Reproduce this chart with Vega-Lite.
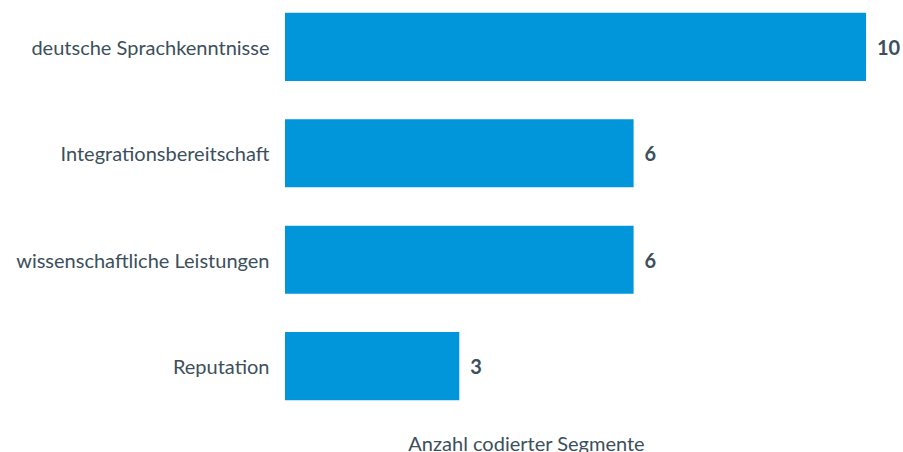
{
  "$schema": "https://vega.github.io/schema/vega-lite/v6.json",
  "autosize": {"type": "none"},
  "padding": {"left": 285, "top": 0, "right": 37, "bottom": 39},
  "width": 581,
  "height": 413,
  "background": "white",
  "config": {"view": {"stroke": null}, "font": "Lato"},
  "data": {"values": [
    {"kategorie": "deutsche Sprachkenntnisse", "anzahl": 10},
    {"kategorie": "Integrationsbereitschaft", "anzahl": 6},
    {"kategorie": "wissenschaftliche Leistungen", "anzahl": 6},
    {"kategorie": "Reputation", "anzahl": 3}
  ]},
  "encoding": {
    "y": {"field": "kategorie", "type": "nominal", "sort": null,
      "scale": {"paddingInner": 0.36, "paddingOuter": 0.12},
      "axis": {"title": null, "ticks": false, "domain": false, "labelPadding": 16, "labelOffset": 2, "labelFontSize": 20, "labelLimit": 0, "labelColor": "#3c4f5c", "labelFont": "Lato"}},
    "x": {"field": "anzahl", "type": "quantitative", "scale": {"domain": [0, 10], "nice": false},
      "axis": {"title": "Anzahl codierter Segmente", "labels": false, "ticks": false, "domain": false, "grid": false,
        "titleFontSize": 20, "titleFontWeight": "normal", "titleColor": "#3c4f5c", "titlePadding": 21, "titleX": 241, "titleFont": "Lato"}}
  },
  "layer": [
    {"mark": {"type": "bar", "color": "#0096d9"}},
    {"mark": {"type": "text", "align": "left", "dx": 11, "dy": 2, "fontSize": 20, "fontWeight": "bold", "color": "#3c4f5c", "font": "Lato"},
      "encoding": {"text": {"field": "anzahl", "type": "quantitative"}}}
  ]
}
